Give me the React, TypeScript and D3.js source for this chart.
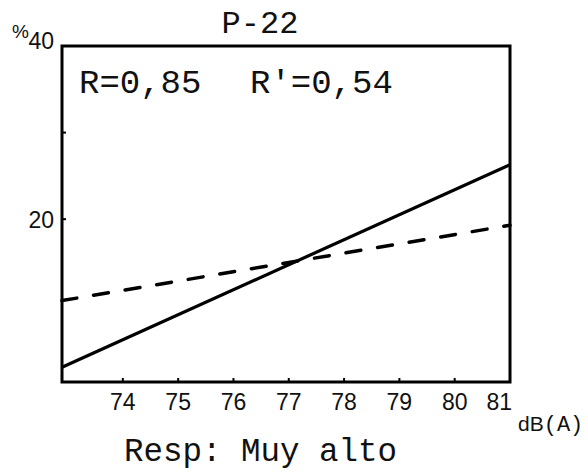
import React from 'react';
import * as d3 from 'd3';

// chart values
const xTicks = [74, 75, 76, 77, 78, 79, 80, 81];
const yTicks = [20, 30, 40];
const yLabels = ['20', '40'];
const lineX = [72.9, 81];
const solidY = [2.9, 26.3];
const dashedY = [10.6, 19.3];

const W = 588;
const H = 473;
const mono = '"Liberation Mono", "DejaVu Sans Mono", monospace';
const sans = '"Liberation Sans", Arial, sans-serif';

export default function App() {
    const x = d3.scaleLinear().domain([72.9, 81]).range([62, 510]);
    const y = d3.scaleLinear().domain([1.2, 40]).range([382, 46]);

    const line = d3.line<number[]>()
        .x(d => x(d[0]))
        .y(d => y(d[1]));

    const solid = lineX.map((v, i) => [v, solidY[i]]);
    const dashed = lineX.map((v, i) => [v, dashedY[i]]);

    const [x0, x1] = x.range();
    const [yb, yt] = y.range();
    const lastTick = xTicks[xTicks.length - 1];

    return (
        <svg width={W} height={H} style={{ position: 'absolute', left: 0, top: 0, background: '#fff' }}>
            {/* title */}
            <text x={260} y={33} textAnchor='middle' fontFamily={mono} fontSize={32} fill='#111'>P-22</text>

            {/* plot frame */}
            <rect x={x0} y={yt} width={x1 - x0} height={yb - yt} fill='none' stroke='#000' strokeWidth={3} />

            {/* x ticks */}
            {xTicks.map(t => (
                <g key={t}>
                    <line x1={x(t)} x2={x(t)} y1={yb} y2={yb - 4} stroke='#000' strokeWidth={2} />
                    <text
                        x={t === lastTick ? x(t) + 2 : x(t)}
                        y={410}
                        textAnchor={t === lastTick ? 'end' : 'middle'}
                        fontFamily={sans} fontSize={23} fill='#111'
                    >{t}</text>
                </g>
            ))}

            {/* y ticks */}
            {yTicks.map(t => (
                <line key={t} x1={x0} x2={x0 + 4} y1={y(t)} y2={y(t)} stroke='#000' strokeWidth={2} />
            ))}
            {yLabels.map(l => (
                <text key={l} x={54} y={y(+l) + (l === '40' ? 3 : 9)} textAnchor='end' fontFamily={sans} fontSize={23} fill='#111'>{l}</text>
            ))}
            <text x={12} y={38} fontFamily={sans} fontSize={19} fill='#111'>%</text>

            {/* axis unit */}
            <text x={518} y={431} fill='#111'>
                <tspan fontFamily={sans} fontSize={21}>dB</tspan>
                <tspan fontFamily={mono} fontSize={22}>(A)</tspan>
            </text>

            {/* correlation note */}
            <text x={79} y={93} fontFamily={mono} fontSize={34} fill='#111'>R=0,85</text>
            <text x={250} y={93} fontFamily={mono} fontSize={34} fill='#111'>R'=0,54</text>

            {/* regression lines */}
            <path d={line(solid) || ''} fill='none' stroke='#000' strokeWidth={3.2} />
            <path d={line(dashed) || ''} fill='none' stroke='#000' strokeWidth={3.5} strokeDasharray='15 17' strokeLinecap='round' />

            {/* response caption */}
            <text x={124} y={461} fontFamily={mono} fontSize={32.5} fill='#111'>Resp: Muy alto</text>
        </svg>
    );
}
